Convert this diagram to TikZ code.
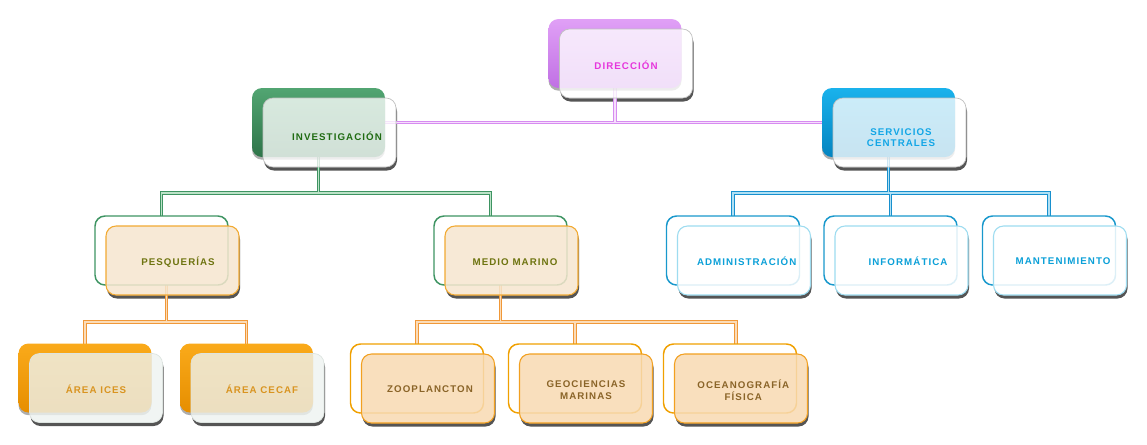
\documentclass[tikz,border=0pt]{standalone}
\usepackage{fontspec}
\newfontfamily\labfont[LetterSpace=11]{Liberation Sans}
\usetikzlibrary{calc,shadows}
\pgfdeclarelayer{shadowl}
\pgfdeclarelayer{connl}
\pgfdeclarelayer{backl}
\pgfsetlayers{shadowl,connl,backl,main}
% colours
\definecolor{pTop}{HTML}{E0A0F6}\definecolor{pBot}{HTML}{C070E4}
\definecolor{gTop}{HTML}{52A572}\definecolor{gBot}{HTML}{2E7449}
\definecolor{bTop}{HTML}{1AB2EC}\definecolor{bBot}{HTML}{0484C0}
\definecolor{oTop}{HTML}{FAAA1A}\definecolor{oBot}{HTML}{E68E00}
\definecolor{gLine}{HTML}{3E9462}\definecolor{bLine}{HTML}{1898CC}
\definecolor{oLine}{HTML}{F0A000}
\definecolor{peach}{HTML}{F6E6CF}\definecolor{peachB}{HTML}{F2AA32}
\definecolor{lblue}{HTML}{9EDCF0}
\definecolor{greyf}{HTML}{EEF3F0}\definecolor{greyB}{HTML}{DDE4E0}
\definecolor{orf}{HTML}{F8DAB2}\definecolor{orB}{HTML}{F2A020}
\definecolor{shadowgray}{HTML}{555555}
\definecolor{tDir}{HTML}{E636DC}\definecolor{tInv}{HTML}{1F6B12}
\definecolor{tSc}{HTML}{12A6E6}\definecolor{tOl}{HTML}{6E7410}
\definecolor{tBl}{HTML}{0BA0D8}\definecolor{tAr}{HTML}{D99420}
\definecolor{tBr}{HTML}{8A6428}
\definecolor{cP}{HTML}{D68CF0}\definecolor{cPi}{HTML}{F6DEFC}
\definecolor{cG}{HTML}{3E9462}\definecolor{cGi}{HTML}{BCE2C8}
\definecolor{cB}{HTML}{1890CE}\definecolor{cBi}{HTML}{B0E0F4}
\definecolor{cO}{HTML}{F09838}\definecolor{cOi}{HTML}{FBDCB8}
\tikzset{
  box/.style={rectangle, rounded corners=7.5pt, minimum width=99.75pt,
    minimum height=51.75pt, inner sep=0pt, outer sep=0pt},
  bshadow/.style={drop shadow={shadow xshift=0pt, shadow yshift=-2pt, opacity=0.45, fill=black!70}},
  backP/.style={top color=pTop, bottom color=pBot, draw=none, bshadow},
  backG/.style={top color=gTop, bottom color=gBot, draw=none, bshadow},
  backB/.style={top color=bTop, bottom color=bBot, draw=none, bshadow},
  backO/.style={top color=oTop, bottom color=oBot, draw=none, bshadow},
  outG/.style={fill=white, draw=gLine, line width=1.1pt},
  outB/.style={fill=white, draw=bLine, line width=1.1pt},
  outO/.style={fill=white, draw=oLine, line width=1.1pt},
  frontTop/.style={fill=white, fill opacity=0.78, draw=black!25, line width=0.5pt},
  frontPeach/.style={fill=peach, fill opacity=0.85, draw=peachB, line width=0.8pt},
  frontWhiteB/.style={fill=white, fill opacity=0.85, draw=lblue, line width=0.8pt},
  frontGrey/.style={fill=greyf, fill opacity=0.8, draw=greyB, line width=0.5pt},
  frontOr/.style={fill=orf, fill opacity=0.85, draw=orB, line width=0.8pt},
  lab/.style={font=\labfont\bfseries\fontsize{7.3}{8.4}\selectfont, align=center, inner sep=0pt},
  connout/.style={draw=#1, line width=2.5pt, line cap=rect},
  connin/.style={draw=#1, line width=0.95pt, line cap=rect},
}
\newcommand\orgunit[9]{%
  \begin{pgfonlayer}{shadowl}
    \node[box, fill=shadowgray] at (#2+12,#3+13.5) {};
    \node[box, fill=white] at (#2+11,#3+10) {};
  \end{pgfonlayer}
  \begin{pgfonlayer}{backl}
    \node[box,#4] (#1B) at (#2,#3) {};
  \end{pgfonlayer}
  \node[box,#5] (#1F) at (#2+11,#3+10) {};
  \node[lab,#8] (#1T) at (#6,#7) {#9};
}
\newcommand\connectors[4]{%
  \draw[#1] (dirB.center) -- (dirB.center |- invB.center);
  \draw[#1] (invB.center) -- (scB.center);
  \draw[#2] (invB.center) -- (invB.center |- gmid);
  \draw[#2] (pesqB.center |- gmid) -- (medX |- gmid);
  \draw[#2] (pesqB.center |- gmid) -- (pesqB.center);
  \draw[#2] (medX |- gmid) -- (medX);
  \draw[#3] (scB.center) -- (scB.center |- gmid);
  \draw[#3] (admB.center |- gmid) -- (manB.center |- gmid);
  \foreach \n in {adm,inf,man} \draw[#3] (\n B.center |- gmid) -- (\n B.center);
  \draw[#4] (pesqX) -- (pesqX |- omid);
  \draw[#4] (icesB.center |- omid) -- (cecafB.center |- omid);
  \foreach \n in {ices,cecaf} \draw[#4] (\n B.center |- omid) -- (\n B.center);
  \draw[#4] (medB.center) -- (medB.center |- omid);
  \draw[#4] (zooB.center |- omid) -- (oceX |- omid);
  \foreach \n in {zoo,geo} \draw[#4] (\n B.center |- omid) -- (\n B.center);
  \draw[#4] (oceX |- omid) -- (oceX);
}
\begin{document}
\begin{tikzpicture}[x=0.75pt, y=-0.75pt]
\useasboundingbox (0,0) rectangle (1147,444);
\orgunit{dir}{615}{53.5}{backP}{frontTop}{626}{65.5}{text=tDir}{DIRECCIÓN}
\orgunit{inv}{318.5}{122.5}{backG}{frontTop}{337}{136.5}{text=tInv}{INVESTIGACIÓN}
\orgunit{sc}{888.5}{122.5}{backB}{frontTop}{901}{137.3}{text=tSc}{SERVICIOS\\CENTRALES}
\orgunit{pesq}{161.5}{250.5}{outG}{frontPeach}{178}{262}{text=tOl}{PESQUERÍAS}
\orgunit{med}{500.5}{250.5}{outG}{frontPeach}{515}{262}{text=tOl}{MEDIO MARINO}
\orgunit{adm}{733}{250.5}{outB}{frontWhiteB}{746.7}{261.5}{text=tBl}{ADMINISTRACIÓN}
\orgunit{inf}{890.5}{250.5}{outB}{frontWhiteB}{908}{261.5}{text=tBl}{INFORMÁTICA}
\orgunit{man}{1049}{250.5}{outB}{frontWhiteB}{1063}{261.5}{text=tBl}{MANTENIMIENTO}
\orgunit{ices}{85}{378}{backO}{frontGrey}{96}{389}{text=tAr}{ÁREA ICES}
\orgunit{cecaf}{246.5}{378}{backO}{frontGrey}{262}{389}{text=tAr}{ÁREA CECAF}
\orgunit{zoo}{417}{378.5}{outO}{frontOr}{430}{389}{text=tBr}{ZOOPLANCTON}
\orgunit{geo}{575}{378.5}{outO}{frontOr}{586}{390.2}{text=tBr}{GEOCIENCIAS\\MARINAS}
\orgunit{oce}{730}{378.5}{outO}{frontOr}{743.3}{390.2}{text=tBr}{OCEANOGRAFÍA\\FÍSICA}
\coordinate (gmid) at (0,193);
\coordinate (omid) at (0,322);
\coordinate (medX) at ($(medB.center)+(-10,0)$);
\coordinate (pesqX) at ($(pesqB.center)+(5,0)$);
\coordinate (oceX) at ($(oceB.center)+(6,0)$);
\begin{pgfonlayer}{connl}
  \connectors{connout=cP}{connout=cG}{connout=cB}{connout=cO}
  \connectors{connin=cPi}{connin=cGi}{connin=cBi}{connin=cOi}
\end{pgfonlayer}
\end{tikzpicture}
\end{document}
